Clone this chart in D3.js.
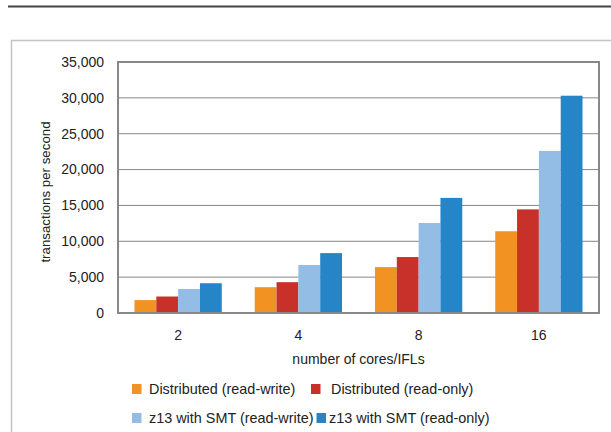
<!DOCTYPE html>
<html>
<head>
<meta charset="utf-8">
<script src="https://cdn.jsdelivr.net/npm/d3@7"></script>
<style>
  body { margin: 0; background: #fff; }
  text { font-family: "Liberation Sans", Arial, Helvetica, sans-serif; fill: #222; }
</style>
</head>
<body>
<div id="chart"></div>
<script>
// data
const cores = ["2", "4", "8", "16"];
const seriesNames = ["Distributed (read-write)", "Distributed (read-only)", "z13 with SMT (read-write)", "z13 with SMT (read-only)"];
const distRW = [1800, 3600, 6400, 11400];
const distRO = [2300, 4300, 7800, 14450];
const smtRW = [3350, 6700, 12550, 22600];
const smtRO = [4150, 8350, 16050, 30300];
const yTicks = [0, 5000, 10000, 15000, 20000, 25000, 30000, 35000];

const colors = ["#F29222", "#C8302A", "#94BDE5", "#2585C7"];
const allSeries = [distRW, distRO, smtRW, smtRO];

const W = 611, H = 432;
const margin = {top: 62, right: 12, bottom: 119, left: 118};

const svg = d3.select("#chart").append("svg")
    .attr("width", W)
    .attr("height", H);

// page rule + figure frame
svg.append("line")
    .attr("x1", 8).attr("x2", W).attr("y1", 6.5).attr("y2", 6.5)
    .attr("stroke", "#444").attr("stroke-width", 2);
svg.append("path")
    .attr("d", "M11.5," + H + "V40.5H" + W)
    .attr("fill", "none").attr("stroke", "#c4c4c4").attr("stroke-width", 1.5);

const x0 = d3.scaleBand()
    .domain(cores)
    .range([margin.left, W - margin.right]);

const pad = x0.bandwidth() * 0.137;
const x1 = d3.scaleBand()
    .domain(d3.range(seriesNames.length))
    .range([pad, x0.bandwidth() - pad]);

const y = d3.scaleLinear()
    .domain([0, 35000])
    .range([H - margin.bottom, margin.top]);

// gridlines
svg.append("g")
    .selectAll("line")
    .data(yTicks.slice(1, -1))
    .join("line")
    .attr("x1", margin.left).attr("x2", W - margin.right)
    .attr("y1", d => y(d)).attr("y2", d => y(d))
    .attr("stroke", "#888").attr("stroke-width", 1);

// y labels
svg.append("g")
    .selectAll("text")
    .data(yTicks)
    .join("text")
    .attr("x", 104)
    .attr("y", d => y(d))
    .attr("dy", "0.35em")
    .attr("text-anchor", "end")
    .style("font-size", "14px")
    .text(d => d3.format(",")(d));

// bars
const groups = svg.append("g")
    .selectAll("g")
    .data(cores)
    .join("g")
    .attr("transform", d => "translate(" + x0(d) + ",0)");

groups.selectAll("rect")
    .data((c, i) => allSeries.map((s, j) => ({j: j, v: s[i]})))
    .join("rect")
    .attr("x", d => x1(d.j))
    .attr("width", x1.bandwidth())
    .attr("y", d => y(d.v))
    .attr("height", d => y(0) - y(d.v))
    .attr("fill", d => colors[d.j]);

// plot box
svg.append("rect")
    .attr("x", margin.left).attr("y", margin.top)
    .attr("width", W - margin.right - margin.left)
    .attr("height", y(0) - margin.top)
    .attr("fill", "none")
    .attr("stroke", "#888").attr("stroke-width", 2);

// x labels
svg.append("g")
    .selectAll("text")
    .data(cores)
    .join("text")
    .attr("x", d => x0(d) + x0.bandwidth() / 2)
    .attr("y", 340)
    .attr("text-anchor", "middle")
    .style("font-size", "14px")
    .text(d => d);

svg.append("text")
    .attr("x", (margin.left + W - margin.right) / 2)
    .attr("y", 364)
    .attr("text-anchor", "middle")
    .style("font-size", "14px")
    .text("number of cores/IFLs");

svg.append("text")
    .attr("transform", "translate(50," + 192 + ") rotate(-90)")
    .attr("text-anchor", "middle")
    .style("font-size", "13.3px")
    .text("transactions per second");

// legend
const legendPos = [
    {sx: 132, tx: 149, y: 389},
    {sx: 311, tx: 331, y: 389},
    {sx: 132, tx: 149, y: 418},
    {sx: 316.5, tx: 329, y: 418}
];

const legend = svg.append("g")
    .selectAll("g")
    .data(seriesNames)
    .join("g");

legend.append("rect")
    .attr("x", (d, i) => legendPos[i].sx)
    .attr("y", (d, i) => legendPos[i].y - 5)
    .attr("width", 9.5).attr("height", 10)
    .attr("fill", (d, i) => colors[i]);

legend.append("text")
    .attr("x", (d, i) => legendPos[i].tx)
    .attr("y", (d, i) => legendPos[i].y)
    .attr("dy", "0.35em")
    .style("font-size", "14.4px")
    .text(d => d);
</script>
</body>
</html>
